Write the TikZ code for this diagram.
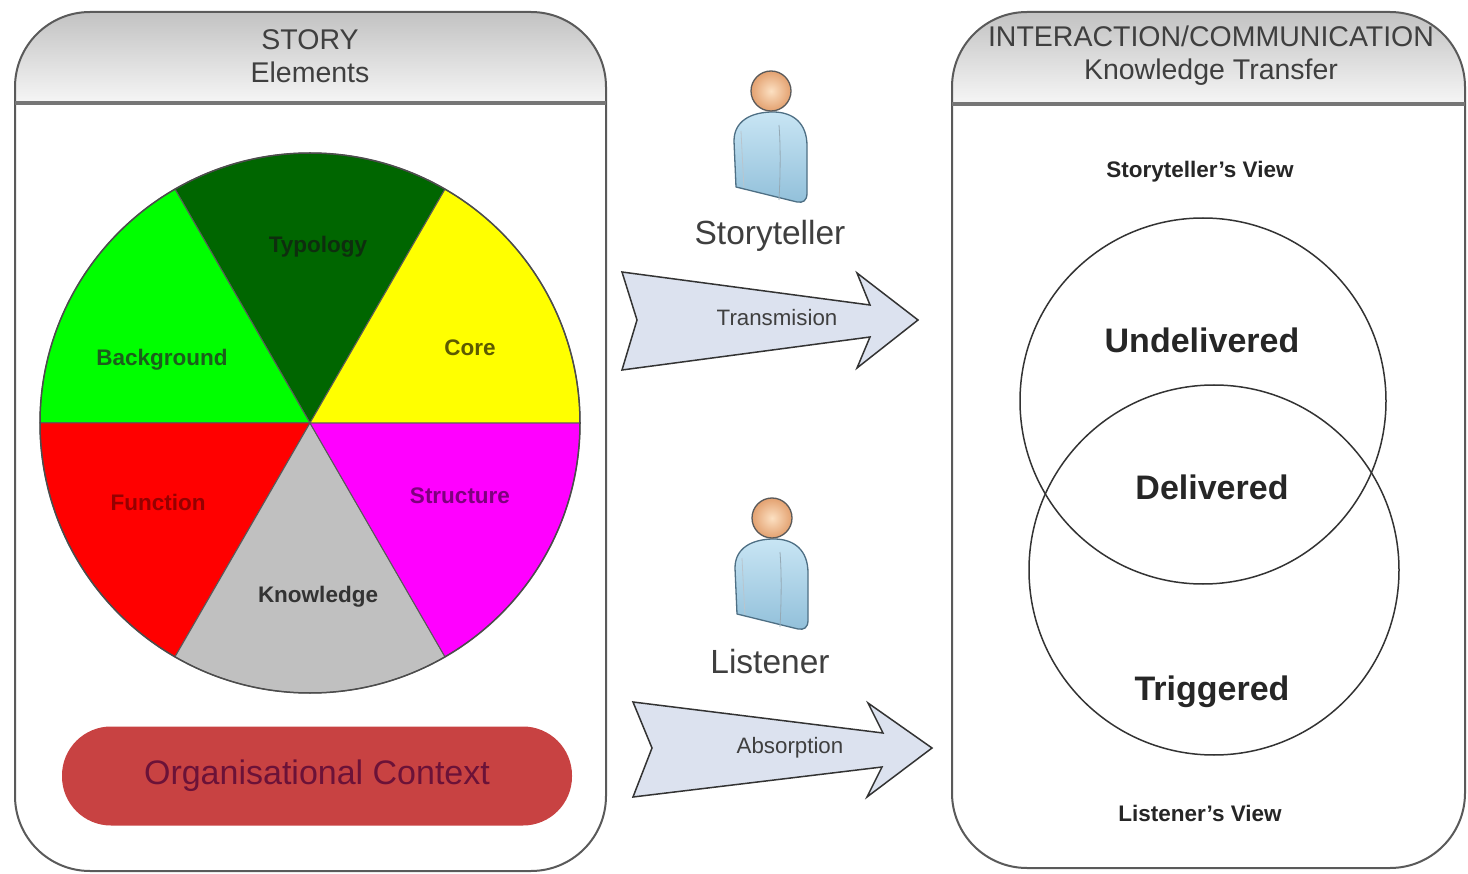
\documentclass[tikz,border=0pt]{standalone}
\usepackage{fontspec}
\setmainfont{Liberation Sans}
\definecolor{hdrtop}{HTML}{C2C2C2}
\definecolor{hdrbot}{HTML}{F6F6F6}
\definecolor{panelline}{HTML}{5A5A5A}
\definecolor{sepline}{HTML}{767676}
\definecolor{txtgray}{HTML}{3F3F3F}
\definecolor{arrowfill}{HTML}{DCE2EF}
\definecolor{orgred}{HTML}{C84242}
\definecolor{orgtxt}{HTML}{6B1238}
\definecolor{typgreen}{HTML}{006600}
\definecolor{bggreen}{HTML}{00FF00}
\definecolor{coreyellow}{HTML}{FFFF00}
\definecolor{funcred}{HTML}{FF0000}
\definecolor{structmag}{HTML}{FF00FF}
\definecolor{knowgray}{HTML}{C0C0C0}
\definecolor{typtxt}{HTML}{0E2E0E}
\definecolor{bgtxt}{HTML}{1C5E1C}
\definecolor{coretxt}{HTML}{5C5A00}
\definecolor{functxt}{HTML}{950000}
\definecolor{structtxt}{HTML}{7E007E}
\definecolor{knowtxt}{HTML}{333333}
\definecolor{bodytop}{HTML}{C8E5F4}
\definecolor{bodybot}{HTML}{92C0DA}
\definecolor{bodyline}{HTML}{4E6F84}
\definecolor{headin}{HTML}{FCE0C2}
\definecolor{headout}{HTML}{E3A170}
\definecolor{headline}{HTML}{5A5A5A}
\tikzset{
  panel/.style={draw=panelline, line width=2pt, rounded corners=75pt},
  sepstyle/.style={draw=sepline, line width=3.5pt},
  hdr/.style={font=\fontsize{28.5}{33}\selectfont, text=txtgray, align=center, inner sep=0pt},
  slice/.style={draw=black!65, line width=1pt},
  pielbl/.style={font=\bfseries\fontsize{22.5}{25}\selectfont, inner sep=0pt},
  bigarrow/.style={fill=arrowfill, draw=black!80, line width=1.5pt, line join=miter},
  arrowtxt/.style={font=\fontsize{22.3}{25}\selectfont, text=txtgray, inner sep=0pt},
  personlbl/.style={font=\fontsize{33.5}{37}\selectfont, text=txtgray, inner sep=0pt},
  venn/.style={circle, draw=black!80, line width=1.5pt, inner sep=0pt, outer sep=0pt},
  vennlbl/.style={font=\bfseries\fontsize{34}{38}\selectfont, text=black!85, inner sep=0pt},
  viewlbl/.style={font=\bfseries\fontsize{22.5}{25}\selectfont, text=black!85, inner sep=0pt},
  orgbox/.style={rectangle, rounded corners=49pt, minimum width=510pt, minimum height=99pt,
    fill=orgred, text=orgtxt, font=\fontsize{34}{37}\selectfont},
  person/.pic={
    \shadedraw[top color=bodytop, bottom color=bodybot, draw=bodyline, line width=1.3pt, line join=round]
      (-35,96) -- (-37,50) .. controls (-37,30) and (-20,21) .. (2,21)
      .. controls (22,21) and (36,32) .. (36,55) -- (36,102)
      .. controls (36,110) and (32,112) .. (26,111) -- cycle;
    \draw[bodyline!60, line width=0.8pt] (8,34) .. controls (10,60) and (9,90) .. (8,109);
    \draw[bodyline!40, line width=0.8pt] (-30,40) .. controls (-29,60) and (-28,80) .. (-27,97);
    \shadedraw[inner color=headin, outer color=headout, draw=headline, line width=1.3pt] (0,0) circle[radius=20];
  }
}
\begin{document}
\begin{tikzpicture}[x=1pt,y=-1pt]
\useasboundingbox (0,0) rectangle (1468,874);
\fill[white] (0,0) rectangle (1468,874);

% ---------- left panel ----------
\begin{scope}
  \clip[rounded corners=75pt] (15,12) rectangle (606,871);
  \shade[top color=hdrtop, bottom color=hdrbot] (15,12) rectangle (606,103);
\end{scope}
\draw[panel] (15,12) rectangle (606,871);
\draw[sepstyle] (15,103) -- (606,103);
\node[hdr] (storyhdr) at (310,56) {STORY\\Elements};

% pie
\begin{scope}[shift={(310,423)}, y=1pt]
  \filldraw[slice, fill=typgreen]  (0,0) -- (60:270) arc[start angle=60, end angle=120, radius=270] -- cycle;
  \filldraw[slice, fill=bggreen]   (0,0) -- (120:270) arc[start angle=120, end angle=180, radius=270] -- cycle;
  \filldraw[slice, fill=funcred]   (0,0) -- (180:270) arc[start angle=180, end angle=240, radius=270] -- cycle;
  \filldraw[slice, fill=knowgray]  (0,0) -- (240:270) arc[start angle=240, end angle=300, radius=270] -- cycle;
  \filldraw[slice, fill=structmag] (0,0) -- (300:270) arc[start angle=300, end angle=360, radius=270] -- cycle;
  \filldraw[slice, fill=coreyellow] (0,0) -- (0:270) arc[start angle=0, end angle=60, radius=270] -- cycle;
  \draw[draw=black!70, line width=1.5pt] (0,0) circle[radius=270];
\end{scope}
\node[pielbl, text=typtxt] (typ) at (318,247) {Typology};
\node[pielbl, text=bgtxt] (bg) at (162,360) {Background};
\node[pielbl, text=coretxt] (core) at (470,348) {Core};
\node[pielbl, text=functxt] (func) at (158,502) {Function};
\node[pielbl, text=structtxt] (struct) at (460,496) {Structure};
\node[pielbl, text=knowtxt] (know) at (318,597) {Knowledge};

\node[orgbox] (org) at (317,776) {Organisational Context};

% ---------- middle ----------
\pic (st) at (771,91) {person};
\node[personlbl] (stlbl) at (770,236) {Storyteller};
\filldraw[bigarrow] (622,272) -- (870,305) -- (857,273) -- (918,320) -- (857,368) -- (870,337) -- (622,370) -- (637,320) -- cycle;
\node[arrowtxt] (trans) at (777,318) {Transmision};

\pic (ls) at (772,518) {person};
\node[personlbl] (lslbl) at (770,662) {Listener};
\filldraw[bigarrow] (633,702) -- (883,733) -- (868,703) -- (932,748) -- (867,797) -- (882,767) -- (633,797) -- (652,748) -- cycle;
\node[arrowtxt] (absorb) at (790,748) {Absorption};

% ---------- right panel ----------
\begin{scope}
  \clip[rounded corners=75pt] (952,12) rectangle (1465,868);
  \shade[top color=hdrtop, bottom color=hdrbot] (952,12) rectangle (1465,104);
\end{scope}
\draw[panel] (952,12) rectangle (1465,868);
\draw[sepstyle] (952,104) -- (1465,104);
\node[hdr] (ichdr) at (1211,56) {INTERACTION/COMMUNICATION\\Knowledge Transfer};

\node[viewlbl] (sview) at (1200,172) {Storyteller's View};
\node[venn, minimum size=366pt] (upc) at (1203,401) {};
\node[venn, minimum size=370pt] (lowc) at (1214,570) {};
\node[vennlbl] (undel) at (1202,340) {Undelivered};
\node[vennlbl] (del) at (1212,487) {Delivered};
\node[vennlbl] (trig) at (1212,692) {Triggered};
\node[viewlbl] (lview) at (1200,813) {Listener's View};
\end{tikzpicture}
\end{document}
